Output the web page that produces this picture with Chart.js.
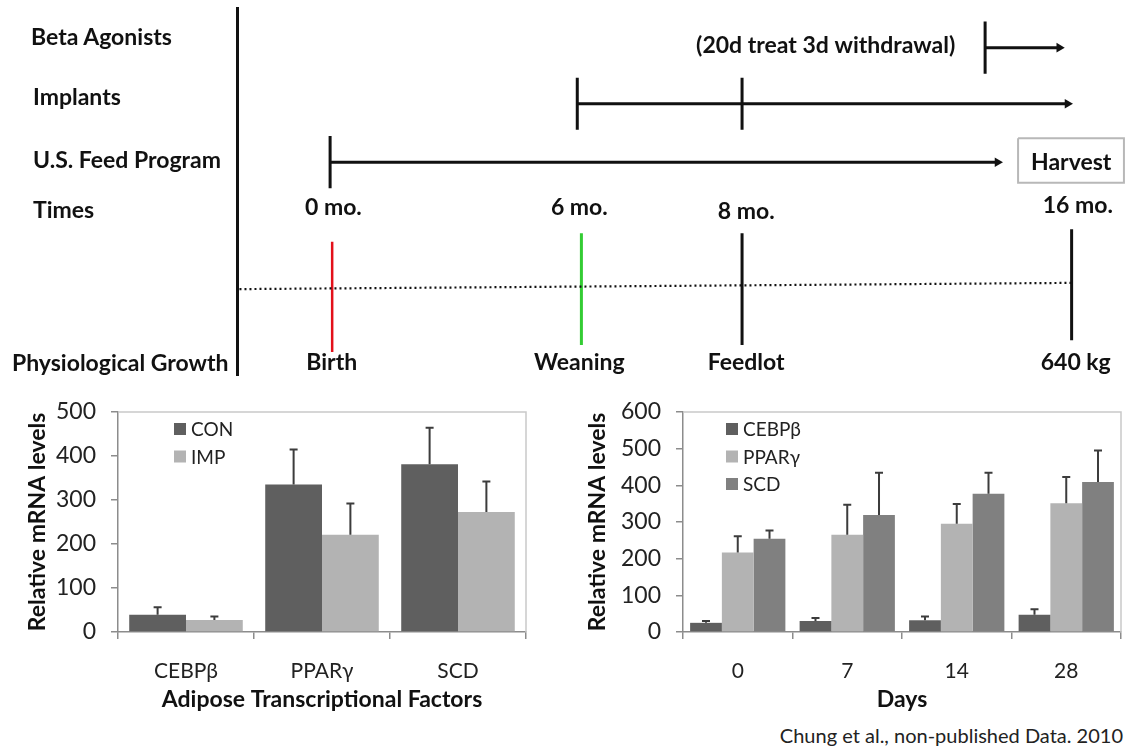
<!DOCTYPE html>
<html>
<head>
<meta charset="utf-8">
<script src="https://cdn.jsdelivr.net/npm/chart.js@4.4.1/dist/chart.umd.min.js"></script>
<style>
  html, body { margin: 0; padding: 0; background: #fff; }
  body { width: 1126px; height: 751px; position: relative; overflow: hidden; font-family: Lato, 'Open Sans', sans-serif; }
  .box { position: absolute; }
  .row-label { position: absolute; font-weight: bold; font-size: 23px; color: #111; white-space: nowrap; line-height: 1; transform: translateY(-50%); }
  #note { position: absolute; right: 3px; top: 723px; font-size: 20px; color: #222; line-height: 1.2; }
</style>
</head>
<body>
<div class="box" style="left:0;top:0;width:1126px;height:385px"><canvas id="timeline"></canvas></div>
<div class="box" style="left:0;top:390px;width:560px;height:323px"><canvas id="adipose"></canvas></div>
<div class="box" style="left:560px;top:390px;width:566px;height:323px"><canvas id="days"></canvas></div>
<div class="row-label" style="left:31px;top:36px">Beta Agonists</div>
<div class="row-label" style="left:33px;top:96px">Implants</div>
<div class="row-label" style="left:33px;top:159px">U.S. Feed Program</div>
<div class="row-label" style="left:33px;top:209px">Times</div>
<div class="row-label" style="left:12px;top:362px">Physiological Growth</div>
<div id="note">Chung et al., non-published Data. 2010</div>
<script>
// timeline (schematic) - x is the position along the drawn time line, y runs 0 (top) .. 100 (bottom)
const programRow = [10.8, 26.1, 42.0]
const programStart = [15.9, 6, 0]
const programEnd = [17.7, 17.9, 16.2]
const programMarks = [[15.9], [6, 10], [0]]
const markHalf = 7.1

const monthLabels = ['0 mo.', '6 mo.', '8 mo.', '16 mo.']
const monthLabelX = [0.08, 6.05, 10.1, 18.15]
const monthLabelY = [54.5, 54.5, 55.4, 53.7]

const stageLabels = ['Birth', 'Weaning', 'Feedlot', '640 kg']
const stageX = [0.05, 6.1, 10, 18]
const stageLabelX = [0.04, 6.05, 10.1, 18.1]
const stageTop = [63.7, 61.4, 61.4, 60.3]
const stageBottom = [93.7, 91.8, 91.8, 90.5]
const stageColors = ['#e3101a', '#33cc33', '#111111', '#111111']
const stageLabelY = 96.6

const growthLineX = [-2.2, 18]
const growthLineY = [76.6, 74.9]

const harvestX = [16.7, 19.27]
const harvestY = [35.5, 47.6]

// adipose factors, CON vs IMP
const factorLabels = ['CEBPβ', 'PPARγ', 'SCD']
const conValues = [39, 335, 381]
const conErrors = [17, 80, 83]
const impValues = [27, 221, 273]
const impErrors = [8, 71, 69]

// days of treatment
const dayLabels = ['0', '7', '14', '28']
const cebpValues = [25, 30, 32, 47]
const cebpErrors = [5, 8, 10, 15]
const pparValues = [217, 265, 295, 351]
const pparErrors = [44, 82, 54, 72]
const scdValues = [254, 319, 377, 409]
const scdErrors = [23, 115, 57, 86]

const FONT = 'Lato, "Open Sans", sans-serif'

const timelineDatasets = []
programRow.forEach((row, i) => {
  timelineDatasets.push({
    data: [{ x: programStart[i], y: row }, { x: programEnd[i], y: row }],
    borderColor: '#111',
    borderWidth: 3,
    pointRadius: [0, 5.5],
    pointStyle: 'triangle',
    rotation: 90,
    pointBackgroundColor: '#111',
    pointBorderWidth: 0,
  })
  programMarks[i].forEach((m) => {
    timelineDatasets.push({
      data: [{ x: m, y: row - markHalf }, { x: m, y: row + markHalf }],
      borderColor: '#111',
      borderWidth: 3,
      pointRadius: 0,
    })
  })
})
timelineDatasets.push({
  data: growthLineX.map((x, i) => ({ x, y: growthLineY[i] })),
  borderColor: '#111',
  borderWidth: 2.2,
  borderDash: [2, 3],
  pointRadius: 0,
})
stageX.forEach((x, i) => {
  timelineDatasets.push({
    data: [{ x, y: stageTop[i] }, { x, y: stageBottom[i] }],
    borderColor: stageColors[i],
    borderWidth: i === 0 ? 2.5 : 3,
    pointRadius: 0,
  })
})
timelineDatasets.push({
  data: [
    { x: harvestX[0], y: harvestY[0] },
    { x: harvestX[1], y: harvestY[0] },
    { x: harvestX[1], y: harvestY[1] },
    { x: harvestX[0], y: harvestY[1] },
    { x: harvestX[0], y: harvestY[0] },
  ],
  borderColor: '#b8b8b8',
  borderWidth: 2,
  pointRadius: 0,
})
timelineDatasets.forEach((d) => {
  d.showLine = true
  d.tension = 0
})

const timelineNotes = [
  { text: '(20d treat 3d withdrawal)', x: 12.03, y: 10.35 },
  { text: 'Harvest', x: 17.99, y: 42.1 },
]
monthLabels.forEach((t, i) => timelineNotes.push({ text: t, x: monthLabelX[i], y: monthLabelY[i] }))
stageLabels.forEach((t, i) => timelineNotes.push({ text: t, x: stageLabelX[i], y: stageLabelY }))

const timelineText = {
  id: 'timelineText',
  afterDatasetsDraw(chart) {
    const { ctx, scales } = chart
    ctx.save()
    ctx.fillStyle = '#111'
    ctx.font = `bold 23px ${FONT}`
    ctx.textAlign = 'center'
    ctx.textBaseline = 'middle'
    timelineNotes.forEach((n) => {
      ctx.fillText(n.text, scales.x.getPixelForValue(n.x), scales.y.getPixelForValue(n.y))
    })
    ctx.restore()
  },
}

new Chart(document.getElementById('timeline'), {
  type: 'scatter',
  data: { datasets: timelineDatasets },
  options: {
    responsive: true,
    maintainAspectRatio: false,
    animation: false,
    layout: { autoPadding: false, padding: { top: 8, bottom: 10, left: 0, right: 0 } },
    plugins: { legend: { display: false }, tooltip: { enabled: false } },
    scales: {
      x: { type: 'linear', min: -2.26, max: 19.32, display: false },
      y: {
        type: 'linear',
        min: 0,
        max: 100,
        reverse: true,
        grid: { display: false },
        ticks: { display: false },
        border: { display: true, color: '#111', width: 3 },
        afterFit(scale) {
          scale.width = 237
          scale.paddingTop = 0
          scale.paddingBottom = 0
        },
      },
    },
  },
  plugins: [timelineText],
})

// bar chart helpers
const errorBars = {
  id: 'errorBars',
  afterDatasetsDraw(chart) {
    const { ctx } = chart
    const y = chart.scales.y
    ctx.save()
    ctx.strokeStyle = '#3c3c3c'
    ctx.lineWidth = 2
    chart.data.datasets.forEach((ds, i) => {
      chart.getDatasetMeta(i).data.forEach((bar, j) => {
        const top = y.getPixelForValue(ds.data[j] + ds.errors[j])
        ctx.beginPath()
        ctx.moveTo(bar.x, bar.y)
        ctx.lineTo(bar.x, top)
        ctx.moveTo(bar.x - 4, top)
        ctx.lineTo(bar.x + 4, top)
        ctx.stroke()
      })
    })
    ctx.restore()
  },
}

const plotFrame = {
  id: 'plotFrame',
  beforeDatasetsDraw(chart) {
    const { ctx, chartArea } = chart
    ctx.save()
    ctx.strokeStyle = '#c9c9c9'
    ctx.lineWidth = 1.5
    ctx.beginPath()
    ctx.moveTo(chartArea.left, chartArea.top)
    ctx.lineTo(chartArea.right, chartArea.top)
    ctx.lineTo(chartArea.right, chartArea.bottom)
    ctx.stroke()
    ctx.restore()
  },
}

const boxLegend = {
  id: 'boxLegend',
  afterDraw(chart, args, opts) {
    const { ctx, chartArea } = chart
    ctx.save()
    ctx.font = `19px ${FONT}`
    ctx.textBaseline = 'middle'
    chart.data.datasets.forEach((ds, i) => {
      const cx = chartArea.left + opts.left
      const cy = chartArea.top + opts.top + i * opts.row
      ctx.fillStyle = ds.backgroundColor
      ctx.fillRect(cx, cy - 6, 12, 12)
      ctx.fillStyle = '#222'
      ctx.fillText(ds.label, cx + 17, cy + 1)
    })
    ctx.restore()
  },
}

function barOptions(yMax, xTitle, yWidth, padRight, legendLeft) {
  return {
    responsive: true,
    maintainAspectRatio: false,
    animation: false,
    layout: { autoPadding: false, padding: { top: 22, right: padRight, left: 0, bottom: 0 } },
    plugins: {
      legend: { display: false },
      tooltip: { enabled: false },
      boxLegend: { left: legendLeft, top: 17, row: 27.5 },
    },
    scales: {
      x: {
        grid: { offset: true, drawOnChartArea: false, drawTicks: true, tickLength: 7, color: '#8c8c8c', lineWidth: 1.5 },
        border: { color: '#8c8c8c', width: 1.5 },
        ticks: { color: '#222', font: { family: FONT, size: 21 }, padding: 20 },
        title: { display: true, text: xTitle, color: '#111', font: { family: FONT, size: 23, weight: 'bold' }, padding: { top: 0, bottom: 0 } },
        afterFit(scale) {
          scale.height = 81
          scale.paddingLeft = 0
          scale.paddingRight = 0
        },
      },
      y: {
        min: 0,
        max: yMax,
        grid: { drawOnChartArea: false, tickLength: 7, color: '#8c8c8c', lineWidth: 1.5 },
        border: { color: '#8c8c8c', width: 1.5 },
        ticks: { stepSize: 100, color: '#222', font: { family: FONT, size: 23 }, padding: 15 },
        title: { display: true, text: 'Relative mRNA levels', color: '#111', font: { family: FONT, size: 23, weight: 'bold' }, padding: { top: 24, bottom: 0 } },
        afterFit(scale) {
          scale.width = yWidth
          scale.paddingTop = 0
          scale.paddingBottom = 0
        },
      },
    },
  }
}

new Chart(document.getElementById('adipose'), {
  type: 'bar',
  data: {
    labels: factorLabels,
    datasets: [
      { label: 'CON', data: conValues, errors: conErrors, backgroundColor: '#5f5f5f', categoryPercentage: 0.835, barPercentage: 1 },
      { label: 'IMP', data: impValues, errors: impErrors, backgroundColor: '#b3b3b3', categoryPercentage: 0.835, barPercentage: 1 },
    ],
  },
  options: barOptions(500, 'Adipose Transcriptional Factors', 118, 34, 56),
  plugins: [plotFrame, errorBars, boxLegend],
})

new Chart(document.getElementById('days'), {
  type: 'bar',
  data: {
    labels: dayLabels,
    datasets: [
      { label: 'CEBPβ', data: cebpValues, errors: cebpErrors, backgroundColor: '#5f5f5f', categoryPercentage: 0.87, barPercentage: 1 },
      { label: 'PPARγ', data: pparValues, errors: pparErrors, backgroundColor: '#b3b3b3', categoryPercentage: 0.87, barPercentage: 1 },
      { label: 'SCD', data: scdValues, errors: scdErrors, backgroundColor: '#808080', categoryPercentage: 0.87, barPercentage: 1 },
    ],
  },
  options: barOptions(600, 'Days', 123, 5, 43),
  plugins: [plotFrame, errorBars, boxLegend],
})
</script>
</body>
</html>
